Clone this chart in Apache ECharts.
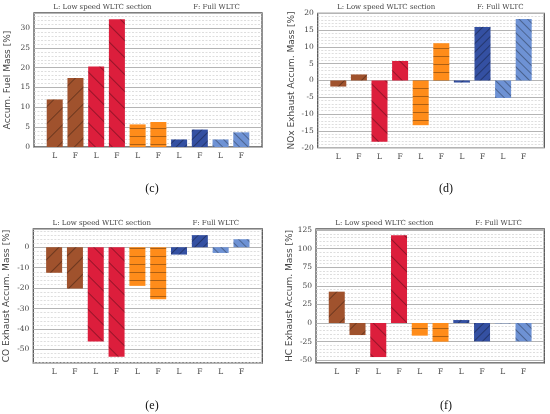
<!DOCTYPE html>
<html>
<head>
<meta charset="utf-8">
<script src="https://cdn.jsdelivr.net/npm/echarts@6/dist/echarts.min.js"></script>
<style>
html,body{margin:0;padding:0;background:#fff;}
#chart{width:550px;height:414px;}
</style>
</head>
<body>
<div id="chart"></div>
<script>
// ---- data ----
const categories = ['L','F','L','F','L','F','L','F','L','F'];
const fuelMass = [12.0, 17.4, 20.3, 32.2, 5.7, 6.3, 1.9, 4.4, 1.9, 3.7];
const noxMass  = [-1.8, 1.8, -18.2, 5.8, -13.3, 11.1, -0.6, 15.9, -5.2, 18.3];
const coMass   = [-12.5, -20.2, -46.1, -53.6, -18.9, -25.4, -3.6, 5.9, -2.8, 3.9];
const hcMass   = [42.2, -16.2, -45.8, 118.0, -17.0, -25.1, 4.0, -24.7, -0.5, -24.7];
const yNames = ['Accum. Fuel Mass [%]', 'NOx Exhaust Accum. Mass [%]', 'CO Exhaust Accum. Mass [%]', 'HC Exhaust Accum. Mass [%]'];
const captions = ['(c)', '(d)', '(e)', '(f)'];
const noteL = 'L: Low speed WLTC section';
const noteF = 'F: Full WLTC';

// ---- styling ----
const colors = ['#A0522D', '#DC1E3C', '#FF8C1A', '#3450A2', '#6E92D4'];
const hatches = [
  {rotation: -Math.PI/4, dashArrayY: [1, 11]},
  {rotation:  Math.PI/4, dashArrayY: [1, 11]},
  {rotation: 0,          dashArrayY: [1, 7]},
  {rotation: -Math.PI/4, dashArrayY: [1, 5]},
  {rotation:  Math.PI/4, dashArrayY: [1, 5]}
];
const panels = [
  {data: fuelMass, min: 0,     max: 33.8,  major: 5,  grid: {left: 34,    top: 13,    width: 228,   height: 134}},
  {data: noxMass,  min: -20,   max: 20,    major: 5,  grid: {left: 317.7, top: 13.3,  width: 226.6, height: 134.4}},
  {data: coMass,   min: -56.6, max: 8.9,   major: 10, grid: {left: 33.3,  top: 229,   width: 229,   height: 134}},
  {data: hcMass,   min: -53.8, max: 126.5, major: 25, grid: {left: 316,   top: 229,   width: 228.3, height: 134}}
];

const grids = [], xAxes = [], yAxes = [], series = [], graphics = [];
panels.forEach((p, k) => {
  grids.push(Object.assign({show: true, borderColor: '#555', borderWidth: 1.3, backgroundColor: '#fff', containLabel: false}, p.grid));
  xAxes.push({
    type: 'value', gridIndex: k, min: -1, max: 10, interval: 1,
    axisLine: {show: false}, axisTick: {show: false}, splitLine: {show: false},
    axisLabel: {
      margin: 5, color: '#444', fontFamily: 'DejaVu Serif', fontSize: 7.5,
      formatter: v => (v >= 0 && v < categories.length) ? categories[v] : ''
    }
  });
  yAxes.push({
    type: 'value', gridIndex: k, min: p.min, max: p.max,
    minInterval: p.major, maxInterval: p.major, splitNumber: 6,
    name: yNames[k], nameLocation: 'middle', nameGap: 22,
    nameTextStyle: {fontFamily: 'DejaVu Sans', fontSize: 9, color: '#444'},
    axisLine: {show: false}, axisTick: {show: false},
    axisLabel: {margin: 4, color: '#444', fontFamily: 'DejaVu Serif', fontSize: 7.5, showMinLabel: p.min === Math.round(p.min / p.major) * p.major, showMaxLabel: p.max === Math.round(p.max / p.major) * p.major},
    splitLine: {show: true, lineStyle: {color: '#b4b4b4', width: 1}},
    minorTick: {show: false, splitNumber: 5},
    minorSplitLine: {show: true, lineStyle: {color: '#d6d6d6', width: 0.8, type: [2, 1.5]}}
  });
  series.push({
    type: 'bar', xAxisIndex: k, yAxisIndex: k, barWidth: 16,
    data: p.data.map((v, i) => {
      const g = Math.floor(i / 2);
      return {
        value: [i, v],
        itemStyle: {
          color: colors[g],
          decal: Object.assign({symbol: 'rect', symbolSize: 1, dashArrayX: [1, 0], color: 'rgba(0,0,0,0.32)'}, hatches[g])
        }
      };
    })
  });
  const gx = p.grid.left, gy = p.grid.top;
  graphics.push({type: 'text', x: gx + 19.3, y: gy - 6.3, style: {text: noteL, font: '7px "DejaVu Serif"', fill: '#444', textVerticalAlign: 'middle'}});
  graphics.push({type: 'text', x: gx + 159.3, y: gy - 6.3, style: {text: noteF, font: '7px "DejaVu Serif"', fill: '#444', textVerticalAlign: 'middle'}});
  graphics.push({type: 'text', x: k % 2 === 0 ? 152 : 446, y: k < 2 ? 189 : 406, style: {text: captions[k], font: '12px "Liberation Serif"', fill: '#111', textAlign: 'center', textVerticalAlign: 'middle'}});
});

const chart = echarts.init(document.getElementById('chart'), null, {renderer: 'canvas'});
chart.setOption({
  animation: false,
  backgroundColor: '#fff',
  grid: grids, xAxis: xAxes, yAxis: yAxes, series: series,
  graphic: graphics
});
</script>
</body>
</html>
